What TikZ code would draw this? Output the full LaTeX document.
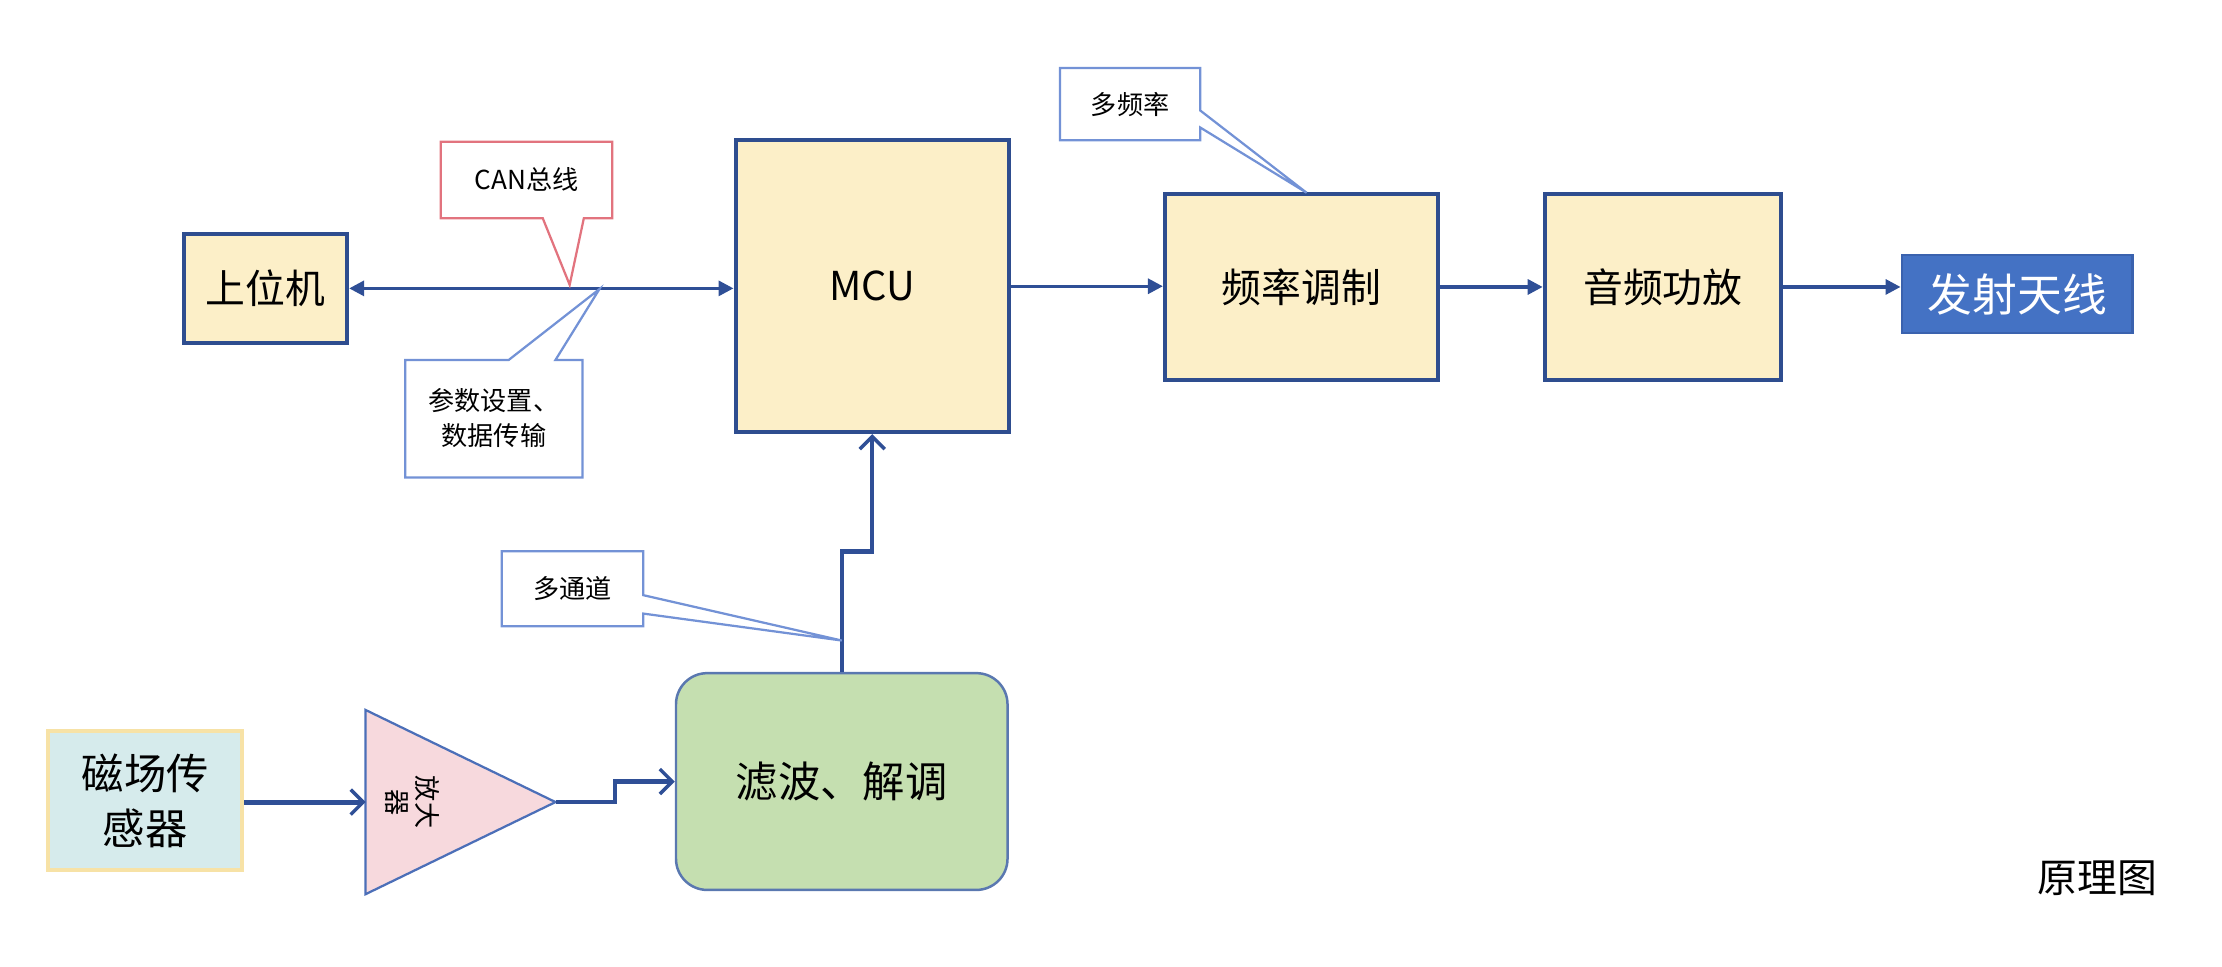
\documentclass[tikz,border=0pt]{standalone}
\usepackage{fontspec}
\setmainfont{Noto Sans CJK SC}
\usetikzlibrary{arrows.meta}
\definecolor{boxfill}{HTML}{FCEFC8}
\definecolor{boxline}{HTML}{2E4D8F}
\definecolor{arrowc}{HTML}{2F4F96}
\definecolor{antfill}{HTML}{4472C4}
\definecolor{antline}{HTML}{3A62AE}
\definecolor{sensfill}{HTML}{D6EBEC}
\definecolor{sensline}{HTML}{F7E2A6}
\definecolor{ampfill}{HTML}{F7D9DD}
\definecolor{ampline}{HTML}{4C6FB8}
\definecolor{greenfill}{HTML}{C5DFB0}
\definecolor{greenline}{HTML}{5A78B0}
\definecolor{callblue}{HTML}{7392D6}
\definecolor{callred}{HTML}{E2737E}
\tikzset{
  ybox/.style={draw=boxline, line width=1.6pt, fill=boxfill, inner sep=0pt, font=\fontsize{16}{19}\selectfont},
  conn/.style={draw=arrowc, line width=1.3pt},
  tri/.style={-{Triangle[length=6pt,width=6pt]}},
  barb/.style={-{Straight Barb[length=5pt,width=10pt,line width=1.4pt]}},
  callb/.style={draw=callblue, line width=0.9pt, fill=white},
  callr/.style={draw=callred, line width=0.9pt, fill=white},
  calltext/.style={font=\fontsize{10.5}{14}\selectfont, align=center, inner sep=0pt},
}
\begin{document}
\begin{tikzpicture}[x=0.02cm,y=-0.02cm]
\useasboundingbox (0,0) rectangle (1568,682);

% main boxes
\node[ybox, minimum width=2.30cm, minimum height=1.54cm] (host) at (187.5,203.5) {上位机};
\node[ybox, minimum width=3.86cm, minimum height=4.12cm, font=\fontsize{16}{19}\selectfont] (mcu) at (615.5,202) {MCU};
\node[ybox, minimum width=3.86cm, minimum height=2.62cm] (fm) at (918.5,202.5) {频率调制};
\node[ybox, minimum width=3.34cm, minimum height=2.62cm] (pa) at (1173.5,202.5) {音频功放};
\node[draw=antline, line width=1pt, fill=antfill, text=white, inner sep=0pt,
      minimum width=3.26cm, minimum height=1.10cm, font=\fontsize{18}{21}\selectfont] (ant) at (1423.5,207.5) {发射天线};

\node[draw=sensline, line width=1.6pt, fill=sensfill, inner sep=0pt, align=center,
      minimum width=2.74cm, minimum height=1.96cm, font=\fontsize{17}{22}\selectfont] (sensor) at (102.5,565) {磁场传\\感器};
\node[draw=greenline, line width=1pt, fill=greenfill, rounded corners=0.44cm, inner sep=0pt,
      minimum width=4.68cm, minimum height=3.06cm, font=\fontsize{17}{20}\selectfont] (green) at (594,551.5) {滤波、解调};

% amplifier
\draw[draw=ampline, line width=0.9pt, fill=ampfill] (258,501) -- (392,566) -- (258,631) -- cycle;
\coordinate (ampin) at (258,566);
\coordinate (ampout) at (392,566);
\node[rotate=-90, align=center, inner sep=0pt, font=\fontsize{10.5}{12}\selectfont] (amptext) at (291,566) {放大\\器};

% connectors
\draw[conn, {Triangle[length=6pt,width=6pt]}-{Triangle[length=6pt,width=6pt]}] (host.east) -- (host.east -| mcu.west);
\draw[conn, tri] (mcu.east) -- (mcu.east -| fm.west);
\draw[conn, tri] (fm.east) -- (pa.west);
\draw[conn, tri] (pa.east) -- (pa.east -| ant.west);
\draw[conn, line width=2pt, barb] (sensor.east |- ampin) -- (ampin);
\draw[conn, line width=1.8pt, barb] (ampout) -- ++(42,0) |- (green.west);
\draw[conn, line width=1.8pt, barb] (green.north) -- ++(0,-85) -| (mcu.south);

% callouts
\draw[callr] (311,100) -- (432,100) -- (432,154) -- (412,154) -- (402,201) -- (383,154) -- (311,154) -- cycle;
\node[calltext] (can) at (371.5,127) {CAN总线};

\draw[callb] (286,254) -- (359,254) -- (423,204) -- (392,254) -- (411,254) -- (411,337) -- (286,337) -- cycle;
\node[calltext] (param) at (348.5,295) {参数设置、\\数据传输};

\draw[callb] (748,48) -- (847,48) -- (847,78) -- (922,136) -- (847,90) -- (847,99) -- (748,99) -- cycle;
\node[calltext] (multif) at (797.5,73.5) {多频率};

\draw[callb] (354,389) -- (454,389) -- (454,420) -- (594,452) -- (454,433) -- (454,442) -- (354,442) -- cycle;
\node[calltext] (multic) at (404,415.5) {多通道};

\node[font=\fontsize{16}{19}\selectfont, inner sep=0pt] (title) at (1480,620) {原理图};
\end{tikzpicture}
\end{document}
